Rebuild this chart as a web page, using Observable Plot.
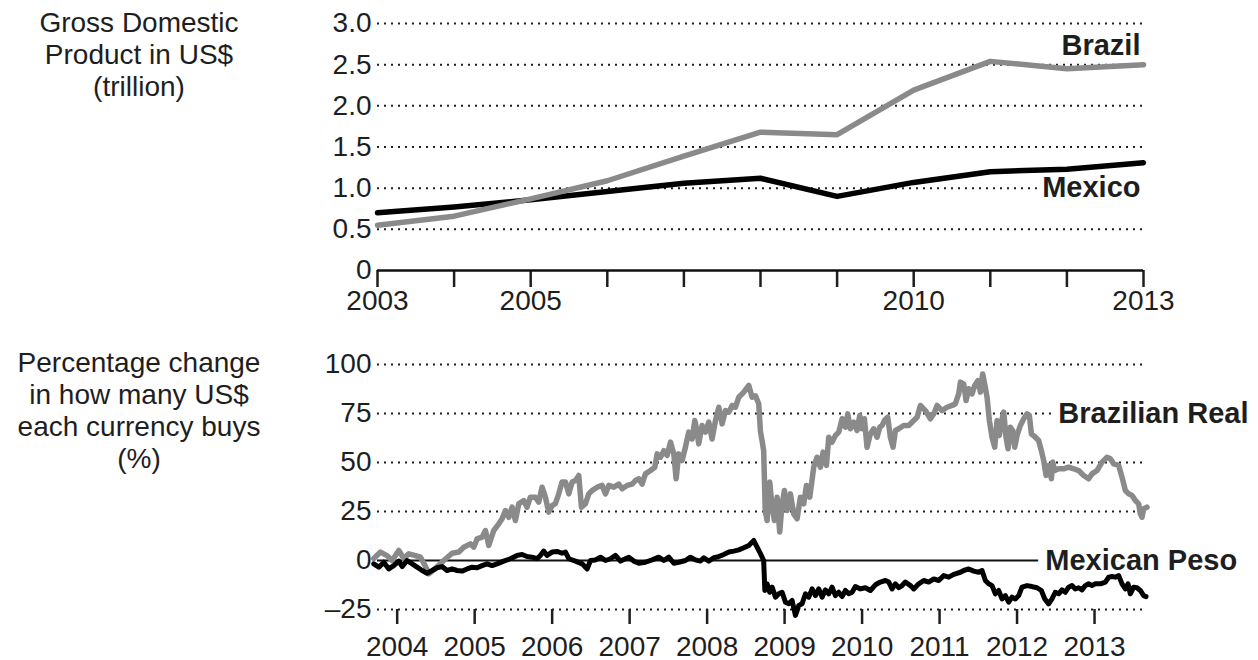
<!DOCTYPE html>
<html>
<head>
<meta charset="utf-8">
<script src="https://cdn.jsdelivr.net/npm/d3@7"></script>
<script src="https://cdn.jsdelivr.net/npm/@observablehq/plot@0.6"></script>
<style>
  html, body { margin: 0; padding: 0; background: #fff; }
  #wrap { position: relative; width: 1258px; height: 660px; font-family: "Liberation Sans", Arial, Helvetica, sans-serif; color: #1e1e1e; }
  .title { position: absolute; left: 0; width: 278px; text-align: center; font-size: 28px; line-height: 32px; }
  .chart { position: absolute; left: 0; }
</style>
</head>
<body>
<div id="wrap">
  <div class="title" style="top:7px">Gross Domestic<br>Product in US$<br>(trillion)</div>
  <div class="title" style="top:347px">Percentage change<br>in how many US$<br>each currency buys<br>(%)</div>
  <div class="chart" id="top" style="top:0"></div>
  <div class="chart" id="bottom" style="top:320px"></div>
</div>
<script>
// ---------- Top panel: GDP (US$ trillion) ----------
const gdpYears = [2003, 2004, 2005, 2006, 2007, 2008, 2009, 2010, 2011, 2012, 2013];
const brazilGdp = [0.55, 0.66, 0.87, 1.09, 1.39, 1.68, 1.65, 2.19, 2.54, 2.45, 2.50];
const mexicoGdp = [0.70, 0.77, 0.86, 0.96, 1.06, 1.12, 0.90, 1.07, 1.20, 1.23, 1.31];
const gdpTicks = [0, 0.5, 1.0, 1.5, 2.0, 2.5, 3.0];
const gdpYearLabels = [2003, 2005, 2010, 2013];

// ---------- Bottom panel: % change in US$ bought ----------
const realT = [2003.698, 2003.784, 2003.870, 2003.935, 2004.021, 2004.085, 2004.150, 2004.236, 2004.300, 2004.365,
  2004.408, 2004.494, 2004.601, 2004.709, 2004.795, 2004.859, 2004.945, 2004.988, 2005.031, 2005.096,
  2005.139, 2005.182, 2005.246, 2005.311, 2005.354, 2005.397, 2005.440, 2005.483, 2005.526, 2005.569,
  2005.633, 2005.676, 2005.719, 2005.784, 2005.827, 2005.870, 2005.913, 2005.956, 2005.999, 2006.042,
  2006.085, 2006.128, 2006.172, 2006.215, 2006.258, 2006.301, 2006.344, 2006.378, 2006.430, 2006.473,
  2006.516, 2006.581, 2006.645, 2006.688, 2006.731, 2006.796, 2006.860, 2006.903, 2006.968, 2007.032,
  2007.075, 2007.118, 2007.161, 2007.204, 2007.269, 2007.325, 2007.355, 2007.398, 2007.441, 2007.484,
  2007.527, 2007.570, 2007.600, 2007.634, 2007.677, 2007.720, 2007.763, 2007.806, 2007.841, 2007.871,
  2007.892, 2007.935, 2007.978, 2008.021, 2008.064, 2008.108, 2008.151, 2008.194, 2008.237, 2008.280,
  2008.323, 2008.366, 2008.409, 2008.473, 2008.538, 2008.581, 2008.624, 2008.666, 2008.688, 2008.710,
  2008.730, 2008.750, 2008.774, 2008.808, 2008.839, 2008.869, 2008.903, 2008.937, 2008.968, 2008.998,
  2009.032, 2009.075, 2009.118, 2009.161, 2009.204, 2009.247, 2009.282, 2009.325, 2009.376, 2009.419,
  2009.462, 2009.497, 2009.540, 2009.570, 2009.613, 2009.656, 2009.699, 2009.742, 2009.785, 2009.815,
  2009.849, 2009.892, 2009.935, 2009.970, 2010.000, 2010.030, 2010.064, 2010.107, 2010.150, 2010.193,
  2010.228, 2010.258, 2010.288, 2010.331, 2010.365, 2010.400, 2010.430, 2010.473, 2010.537, 2010.602,
  2010.667, 2010.710, 2010.753, 2010.817, 2010.882, 2010.925, 2010.968, 2011.032, 2011.097, 2011.161,
  2011.204, 2011.247, 2011.269, 2011.312, 2011.342, 2011.376, 2011.419, 2011.453, 2011.496, 2011.527,
  2011.557, 2011.582, 2011.613, 2011.643, 2011.677, 2011.712, 2011.742, 2011.772, 2011.798, 2011.828,
  2011.858, 2011.884, 2011.914, 2011.944, 2011.970, 2012.000, 2012.043, 2012.086, 2012.129, 2012.159,
  2012.185, 2012.236, 2012.279, 2012.314, 2012.344, 2012.374, 2012.408, 2012.443, 2012.460, 2012.486,
  2012.537, 2012.602, 2012.666, 2012.731, 2012.795, 2012.860, 2012.924, 2012.967, 2013.032, 2013.097,
  2013.161, 2013.204, 2013.247, 2013.312, 2013.355, 2013.398, 2013.441, 2013.484, 2013.527, 2013.570,
  2013.591, 2013.613, 2013.634, 2013.677];
const realV = [1, 4.3, 2.5, 0, 5.1, 1, 3.4, 2.5, 1.7, -3,
  -6.8, -4, 0, 3.7, 4.3, 6.8, 8.5, 6.8, 11, 11.9,
  15.3, 7.7, 15.3, 18.7, 21.3, 25.5, 22, 27.2, 20.4, 28.9,
  30.6, 27.2, 32.3, 32.3, 29.8, 37.4, 32.3, 24.7, 28, 29,
  34, 40, 40, 34, 40, 40.8, 43.4, 27.2, 29, 34,
  35.7, 37.4, 38.3, 34, 38.3, 37.4, 39, 36.6, 38.3, 39,
  40.8, 41.7, 39, 44.2, 45.9, 47.6, 54.4, 52.7, 56, 53.6,
  60.4, 54.4, 41.7, 54.4, 51, 57.8, 65.5, 62, 71.4, 65.5,
  59.5, 68.9, 65.5, 70.6, 62, 71.4, 78.2, 69.7, 76.5, 75.7,
  79.1, 78.2, 83.3, 85.9, 89.3, 83.3, 84, 80, 66, 61,
  56, 25.5, 20.4, 40, 27.2, 20.4, 32.3, 14.5, 28.9, 35.7,
  25.5, 34, 23.8, 21.3, 32.3, 28.9, 38.3, 32.3, 47.6, 52.7,
  47.6, 55.3, 48.5, 62.9, 60.4, 63.8, 65.5, 72.3, 68, 74.8,
  67.2, 70.6, 66.3, 74, 67.2, 72.3, 57.8, 64.6, 67.2, 62.9,
  68, 68.9, 71.4, 73.1, 62.9, 57.8, 66.3, 67.2, 68.9, 68.9,
  71.4, 73.1, 79.1, 76.5, 72.3, 74.8, 79.1, 76.5, 78.2, 79.1,
  80, 85, 91, 90, 81.6, 87.6, 85, 89.3, 91.8, 85.9,
  95.2, 90, 83.3, 71.4, 62.9, 57.8, 71.4, 63.8, 70.6, 75.7,
  62.9, 57, 68, 66.3, 57.8, 63.8, 68.9, 72.3, 74.8, 74,
  64.6, 62.9, 61.2, 56, 51, 43.4, 48.5, 41.7, 50.2, 45.9,
  46.8, 46.8, 47.6, 46.8, 45.9, 43.4, 41.7, 44.2, 45.9, 50.2,
  52.7, 51.9, 49.3, 48.5, 42.5, 35.7, 34, 33.2, 30.6, 28.9,
  23.8, 22.1, 26.4, 27.2];

const pesoT = [2003.698, 2003.763, 2003.827, 2003.892, 2003.956, 2004.021, 2004.064, 2004.128, 2004.193, 2004.257,
  2004.322, 2004.386, 2004.451, 2004.515, 2004.580, 2004.644, 2004.709, 2004.773, 2004.838, 2004.902,
  2004.967, 2005.031, 2005.096, 2005.160, 2005.225, 2005.289, 2005.375, 2005.461, 2005.547, 2005.612,
  2005.676, 2005.741, 2005.805, 2005.848, 2005.891, 2005.934, 2005.999, 2006.063, 2006.128, 2006.172,
  2006.215, 2006.301, 2006.387, 2006.452, 2006.495, 2006.559, 2006.624, 2006.688, 2006.753, 2006.817,
  2006.882, 2006.946, 2006.989, 2007.054, 2007.118, 2007.204, 2007.290, 2007.376, 2007.441, 2007.505,
  2007.570, 2007.634, 2007.720, 2007.785, 2007.849, 2007.914, 2007.957, 2008.021, 2008.086, 2008.151,
  2008.215, 2008.280, 2008.344, 2008.409, 2008.473, 2008.538, 2008.602, 2008.645, 2008.688, 2008.730,
  2008.745, 2008.774, 2008.808, 2008.839, 2008.882, 2008.925, 2008.968, 2009.011, 2009.054, 2009.097,
  2009.140, 2009.183, 2009.226, 2009.269, 2009.312, 2009.355, 2009.398, 2009.441, 2009.484, 2009.527,
  2009.570, 2009.613, 2009.656, 2009.699, 2009.742, 2009.785, 2009.828, 2009.871, 2009.914, 2009.978,
  2010.043, 2010.107, 2010.172, 2010.236, 2010.301, 2010.344, 2010.387, 2010.430, 2010.473, 2010.516,
  2010.559, 2010.624, 2010.667, 2010.731, 2010.796, 2010.860, 2010.925, 2010.989, 2011.054, 2011.118,
  2011.183, 2011.204, 2011.269, 2011.312, 2011.376, 2011.441, 2011.505, 2011.548, 2011.591, 2011.634,
  2011.677, 2011.720, 2011.763, 2011.806, 2011.849, 2011.892, 2011.935, 2011.978, 2012.021, 2012.064,
  2012.129, 2012.193, 2012.258, 2012.314, 2012.357, 2012.408, 2012.451, 2012.494, 2012.537, 2012.580,
  2012.623, 2012.666, 2012.709, 2012.752, 2012.795, 2012.838, 2012.881, 2012.924, 2012.967, 2013.010,
  2013.075, 2013.140, 2013.183, 2013.226, 2013.269, 2013.312, 2013.355, 2013.398, 2013.432, 2013.462,
  2013.505, 2013.548, 2013.591, 2013.634, 2013.665];
const pesoV = [-1.7, -3.4, -0.9, -4.3, -2.6, -0.3, -3.1, 0, -1.7, -3.4,
  -5.1, -6.5, -5.1, -3.7, -3.1, -5.1, -4.3, -5.1, -5.4, -4.3,
  -3.4, -3.7, -2.6, -1.7, -2.6, -1.7, -0.3, 0.9, 2.6, 3.1,
  2, 1.7, 0.9, 2.6, 4.8, 2.6, 4.3, 4.6, 3.7, 4.3,
  0.9, -0.3, -1.7, -4.3, 0, 0.3, 1.7, 0, 0.9, 2.6,
  -0.3, 0.9, 1.7, -0.3, -1.4, -0.9, 0.3, 1.7, 0, 1.7,
  -1.4, -0.9, 0, 1.7, 0.3, -0.3, 1.4, -0.3, 1.4, 2,
  3.1, 4.3, 4.8, 5.4, 6.5, 7.7, 10.2, 6.8, 3.5, 0,
  -15.3, -11.9, -16.2, -13.6, -18.7, -17, -16.2, -21.3, -22.1, -20.4,
  -28, -23, -22.1, -17, -18.7, -14.5, -17.9, -14.5, -18.7, -15,
  -17, -13.6, -17.9, -16.2, -18.4, -15.3, -17, -16.2, -13.3, -14.5,
  -13.9, -15.3, -12.4, -11, -10.2, -11, -14.5, -11.9, -13.9, -12.8,
  -11, -12.8, -14.5, -11.9, -10.2, -11, -9.4, -10.2, -7.7, -8.5,
  -7.1, -6.8, -6, -5.1, -4.3, -5.4, -6, -5.1, -10.2, -11.9,
  -12.8, -17, -15.3, -19.6, -17.9, -21.3, -18.7, -19.6, -17.9, -13.6,
  -12.8, -13.3, -13.9, -15.3, -19.6, -22.1, -19.6, -16.2, -17, -15,
  -16.2, -13.6, -12.8, -14.5, -13.9, -15, -12.8, -11.9, -12.8, -11.9,
  -11.9, -11, -8.5, -8.2, -8.5, -7.7, -11.9, -14.5, -11.9, -17,
  -13.6, -13.9, -15.3, -17.9, -18.4];
const fxTicks = [-25, 0, 25, 50, 75, 100];
const fxYears = [2004, 2005, 2006, 2007, 2008, 2009, 2010, 2011, 2012, 2013];

const FONT = "'Liberation Sans', Arial, Helvetica, sans-serif";
const INK = "#1e1e1e";
const GREY = "#8a8a8a";
const gridStyle = {stroke: INK, strokeOpacity: 1, strokeWidth: 2, strokeDasharray: "2,5"};
const labelStyle = {fontSize: 29, fontWeight: "bold", fill: INK, stroke: "white", strokeWidth: 18, paintOrder: "stroke", strokeLinejoin: "round"};

const topChart = Plot.plot({
  width: 1258, height: 320,
  marginLeft: 377, marginRight: 115, marginTop: 23, marginBottom: 50,
  style: {fontFamily: FONT, fontSize: "28px", color: INK, background: "transparent"},
  x: {domain: [2003, 2013]},
  y: {domain: [0, 3]},
  marks: [
    Plot.gridY(gdpTicks.filter(d => d > 0), gridStyle),
    Plot.axisY(gdpTicks, {tickSize: 0, tickPadding: 6, fontSize: 28, label: null,
      tickFormat: d => d === 0 ? "0" : d.toFixed(1)}),
    Plot.axisX(gdpYears, {tickSize: 17, tickPadding: 3, strokeWidth: 2.5, fontSize: 28, label: null,
      tickFormat: d => gdpYearLabels.includes(d) ? String(d) : ""}),
    Plot.ruleY([0], {stroke: "#111", strokeWidth: 2.5}),
    Plot.text(["Brazil"], {x: gdpYears[gdpYears.length - 1], y: brazilGdp[brazilGdp.length - 1], dy: -19, dx: -3, text: d => d, textAnchor: "end", ...labelStyle, strokeWidth: 10}),
    Plot.text(["Mexico"], {x: gdpYears[gdpYears.length - 1], y: 1.0, dx: -3, text: d => d, textAnchor: "end", ...labelStyle, strokeWidth: 14}),
    Plot.line(gdpYears, {x: d => d, y: (d, i) => mexicoGdp[i], stroke: "#000", strokeWidth: 5.5}),
    Plot.line(gdpYears, {x: d => d, y: (d, i) => brazilGdp[i], stroke: GREY, strokeWidth: 5.5})
  ]
});
document.getElementById("top").append(topChart);

const bottomChart = Plot.plot({
  width: 1258, height: 340,
  marginLeft: 377, marginRight: 115, marginTop: 44, marginBottom: 51,
  style: {fontFamily: FONT, fontSize: "28px", color: INK, background: "transparent", overflow: "visible"},
  x: {domain: [2003.746, 2013.632]},
  y: {domain: [-25, 100]},
  marks: [
    Plot.gridY(fxTicks.filter(d => d !== 0), gridStyle),
    Plot.axisY(fxTicks, {tickSize: 0, tickPadding: 6, fontSize: 28, label: null,
      tickFormat: d => d < 0 ? "\u2013" + Math.abs(d) : String(d)}),
    Plot.axisX(fxYears, {tickSize: 15, tickPadding: 12, strokeWidth: 2.5, fontSize: 28, label: null,
      tickFormat: d => String(d)}),
    Plot.ruleY([0], {stroke: "#111", strokeWidth: 2}),
    Plot.text(["Brazilian Real"], {x: 2012.533, y: 75, text: d => d, textAnchor: "start", ...labelStyle}),
    Plot.text(["Mexican Peso"], {x: 2012.365, y: 0, text: d => d, textAnchor: "start", ...labelStyle}),
    Plot.line(realT, {x: d => d, y: (d, i) => realV[i], stroke: GREY, strokeWidth: 5.5}),
    Plot.line(pesoT, {x: d => d, y: (d, i) => pesoV[i], stroke: "#000", strokeWidth: 5})
  ]
});
document.getElementById("bottom").append(bottomChart);
</script>
</body>
</html>
